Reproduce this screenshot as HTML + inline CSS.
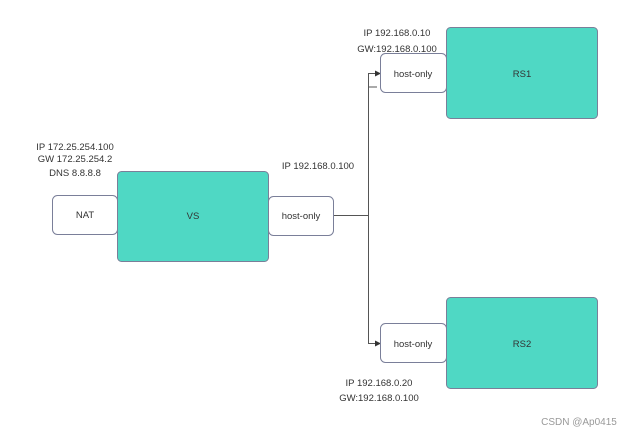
<!DOCTYPE html>
<html><head><meta charset="utf-8"><style>
html,body{margin:0;padding:0;background:#fff;}
svg{display:block;}
text{font-family:"Liberation Sans",sans-serif;fill:#333;font-size:9.5px;text-anchor:middle;}
</style></head><body>
<svg width="627" height="432" viewBox="0 0 627 432" xmlns="http://www.w3.org/2000/svg">
<rect width="627" height="432" fill="#fff"/>
<!-- connectors -->
<g stroke="#555" stroke-width="1" fill="none">
<line x1="334" y1="259.5" x2="368.5" y2="259.5" transform="translate(0,-44)"/>
<polyline points="377,86.5 368.5,86.5 368.5,412 377,412" transform="translate(0,0)" style="display:none"/>
<polyline points="377,87 368.5,87 368.5,87"/>
</g>
<g stroke="#555" stroke-width="1" fill="none">
<polyline points="376,86.5 368.5,86.5 368.5,412.5 376,412.5" transform="scale(1,1)" style="display:none"/>
<polyline points="377,87 368.5,87"/>
</g>
<g stroke="#555" stroke-width="1" fill="none">
<polyline points="377,87 368.5,87 368.5,413 377,413" style="display:none"/>
<polyline points="376,87 368.5,87 368.5,413 376,413" transform="translate(0,-14) scale(1,0.8)" style="display:none"/>
<polyline points="376,86.6 368.5,86.6 368.5,412.4 376,412.4" style="display:none"/>
</g>
<g stroke="#555" stroke-width="1" fill="none">
<polyline points="376,87 368.5,87 368.5,412 376,412" style="display:none"/>
</g>
<g stroke="#555" stroke-width="1" fill="none">
<polyline points="376,87 368.5,87" style="display:none"/>
</g>
<g stroke="#555" stroke-width="1" fill="none">
<polyline points="376,73.5 368.5,73.5 368.5,343.5 376,343.5"/>
</g>
<polygon points="381,73.5 375,70.5 375,76.5" fill="#333"/>
<polygon points="381,343.5 375,340.5 375,346.5" fill="#333"/>
<!-- boxes -->
<g stroke="#7a7f99" stroke-width="1">
<rect x="52.5" y="195.5" width="65" height="39" rx="5" fill="#fff"/>
<rect x="117.5" y="171.5" width="151" height="90" rx="4" fill="#4fd8c4"/>
<rect x="268.5" y="196.5" width="65" height="39" rx="5" fill="#fff"/>
<rect x="380.5" y="53.5" width="66" height="39" rx="5" fill="#fff"/>
<rect x="446.5" y="27.5" width="151" height="91" rx="4" fill="#4fd8c4"/>
<rect x="380.5" y="323.5" width="66" height="39" rx="5" fill="#fff"/>
<rect x="446.5" y="297.5" width="151" height="91" rx="4" fill="#4fd8c4"/>
</g>
<!-- labels -->
<text x="85" y="262" style="display:none">NAT</text>
<text x="85" y="218">NAT</text>
<text x="193" y="219">VS</text>
<text x="301" y="219">host-only</text>
<text x="413" y="92" style="display:none"></text>
<text x="413" y="77">host-only</text>
<text x="522" y="92" style="display:none"></text>
<text x="522" y="77">RS1</text>
<text x="413" y="347">host-only</text>
<text x="522" y="347">RS2</text>
<text x="75" y="179" style="display:none"></text>
<text x="75" y="150">IP 172.25.254.100</text>
<text x="75" y="162">GW 172.25.254.2</text>
<text x="75" y="176">DNS 8.8.8.8</text>
<text x="318" y="202" style="display:none"></text>
<text x="318" y="169">IP 192.168.0.100</text>
<text x="397" y="36">IP 192.168.0.10</text>
<text x="397" y="52">GW:192.168.0.100</text>
<text x="379" y="463" style="display:none"></text>
<text x="379" y="386">IP 192.168.0.20</text>
<text x="379" y="401">GW:192.168.0.100</text>
<text x="579" y="425" style="fill:#999;font-size:10px;">CSDN @Ap0415</text>
</svg>
</body></html>
